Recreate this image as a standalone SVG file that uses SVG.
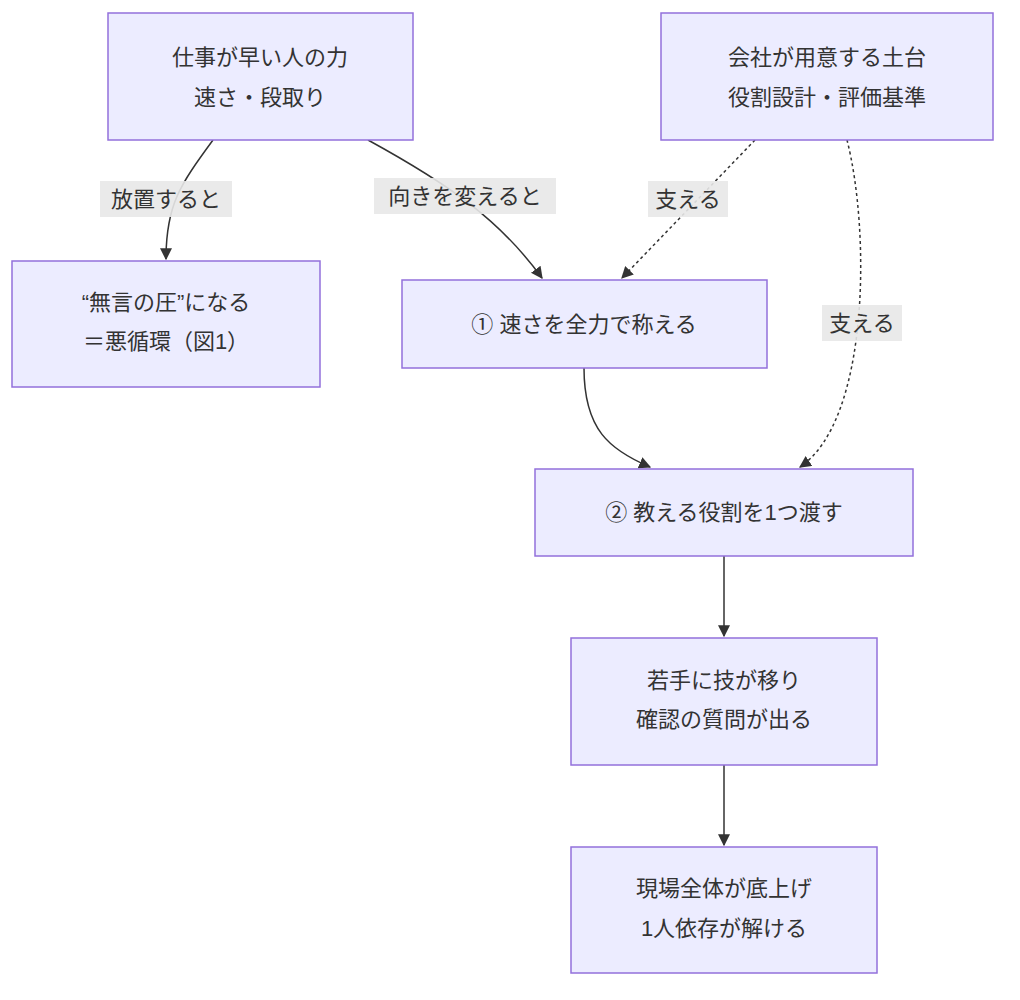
<svg xmlns="http://www.w3.org/2000/svg" width="1020" height="1000" viewBox="0 0 1020 1000">
<style>
.n{fill:#ECECFF;stroke:#9370DB;stroke-width:1.5}
text{font-family:"Liberation Sans","Noto Sans CJK JP",sans-serif;font-size:22px;fill:#333;text-anchor:middle;dominant-baseline:central}
.e{fill:none;stroke:#333;stroke-width:1.5;marker-end:url(#ah)}
.d{stroke-dasharray:3,3}
.lb{fill:#E8E8E8;opacity:0.9}
</style>
<defs><marker id="ah" viewBox="0 0 10 10" refX="9" refY="5" markerWidth="8" markerHeight="8" orient="auto"><path d="M0,0L10,5L0,10z" fill="#333"/></marker></defs>
<rect width="1020" height="1000" fill="#fff"/>
<g id="edges">
<path class="e" d="M213,140 C180,185 166,205 166,259"/>
<path class="e" d="M368,140 C450,185 500,220 542,278"/>
<path class="e d" d="M755,140 L622,278"/>
<path class="e d" d="M847,140 C870,230 870,420 800,467"/>
<path class="e" d="M584,368 C584,430 610,450 650,467"/>
<path class="e" d="M724,556 L724,636"/>
<path class="e" d="M724,765 L724,845"/>
<rect class="lb" x="100" y="181" width="132" height="36"/><text x="166" y="199">放置すると</text>
<rect class="lb" x="374" y="178" width="182" height="36"/><text x="465" y="196">向きを変えると</text>
<rect class="lb" x="648" y="181" width="80" height="36"/><text x="688" y="199">支える</text>
<rect class="lb" x="822" y="305" width="80" height="36"/><text x="862" y="323">支える</text>
</g>
<g id="A"><rect class="n" x="108" y="13" width="305" height="127"/><text x="260" y="57">仕事が早い人の力</text><text x="260" y="97">速さ・段取り</text></g>
<g id="B"><rect class="n" x="661" y="13" width="332" height="127"/><text x="827" y="57">会社が用意する土台</text><text x="827" y="97">役割設計・評価基準</text></g>
<g id="C"><rect class="n" x="12" y="261" width="308" height="126"/><text x="166" y="302">“無言の圧”になる</text><text x="166" y="341">＝悪循環（図1）</text></g>
<g id="D"><rect class="n" x="402" y="280" width="365" height="88"/><text x="584" y="324">① 速さを全力で称える</text></g>
<g id="E"><rect class="n" x="535" y="469" width="378" height="87"/><text x="724" y="512">② 教える役割を1つ渡す</text></g>
<g id="F"><rect class="n" x="571" y="638" width="306" height="127"/><text x="724" y="680">若手に技が移り</text><text x="724" y="719">確認の質問が出る</text></g>
<g id="G"><rect class="n" x="571" y="847" width="306" height="126"/><text x="724" y="888">現場全体が底上げ</text><text x="724" y="928">1人依存が解ける</text></g>
</svg>
